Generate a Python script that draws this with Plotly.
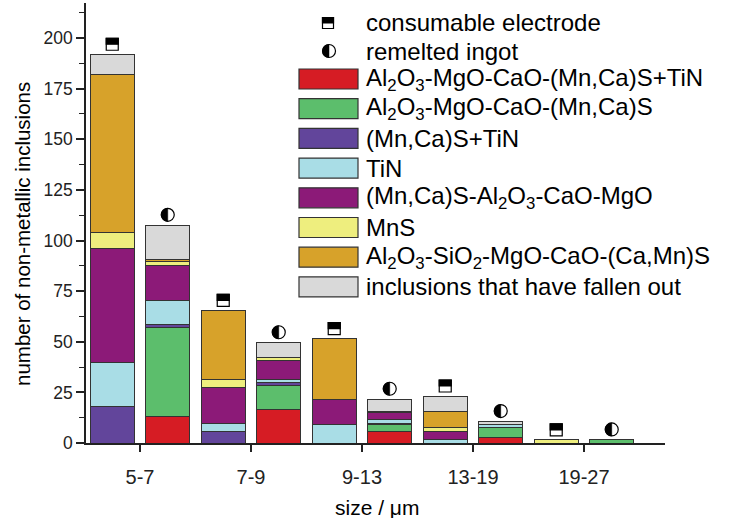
import math
import plotly.graph_objects as go

# ---------------- data ----------------
size_classes = ["5-7", "7-9", "9-13", "13-19", "19-27"]
sample_kinds = ["consumable electrode", "remelted ingot"]  # order inside each size class

# values per bar: [5-7 E, 5-7 I, 7-9 E, 7-9 I, 9-13 E, 9-13 I, 13-19 E, 13-19 I, 19-27 E, 19-27 I]
al_mg_ca_mncas_tin = [0, 13, 0, 16.4, 0, 5.6, 0, 2.5, 0, 0]
al_mg_ca_mncas = [0, 44, 0, 12, 0, 3.3, 0, 5.2, 0, 1.5]
mncas_tin = [18, 1.5, 5.5, 1.5, 0, 0.5, 0, 0, 0, 0]
tin = [22, 12, 4, 1.6, 9, 2, 1.5, 1.2, 0, 0]
mncas_al_ca_mg = [56, 17, 18, 9, 12.5, 3.8, 4, 0, 0, 0]
mns = [8, 2, 4, 1.8, 0, 0.3, 2, 0, 1.5, 0]
al_si_mg_ca_camns = [78, 1, 34, 0, 30, 0.3, 8, 0, 0, 0]
fallen_out = [10, 17, 0, 7.2, 0, 5.8, 7.7, 1.7, 0, 0]

series_names = [
    "Al<sub>2</sub>O<sub>3</sub>-MgO-CaO-(Mn,Ca)S+TiN",
    "Al<sub>2</sub>O<sub>3</sub>-MgO-CaO-(Mn,Ca)S",
    "(Mn,Ca)S+TiN",
    "TiN",
    "(Mn,Ca)S-Al<sub>2</sub>O<sub>3</sub>-CaO-MgO",
    "MnS",
    "Al<sub>2</sub>O<sub>3</sub>-SiO<sub>2</sub>-MgO-CaO-(Ca,Mn)S",
    "inclusions that have fallen out",
]
series_values = [al_mg_ca_mncas_tin, al_mg_ca_mncas, mncas_tin, tin,
                 mncas_al_ca_mg, mns, al_si_mg_ca_camns, fallen_out]
series_colors = ["#d61c24", "#5cbe6c", "#62459b", "#a9dde6",
                 "#8c1a78", "#eeee7e", "#d7a22a", "#d9d9d9"]

# ---------------- layout constants ----------------
W, H = 735, 518
ML, MR, MT, MB = 86, 70, 3, 75
PW, PH = W - ML - MR, H - MT - MB
BAR_OFFSET = 0.25
BAR_WIDTH = 0.4
OUTLINE = "#333333"
FONT = "Liberation Sans, Arial, sans-serif"

n_bars = len(size_classes) * len(sample_kinds)
x_pos = []
for i in range(len(size_classes)):
    x_pos.append(i - BAR_OFFSET)
    x_pos.append(i + BAR_OFFSET)
bar_kind = [sample_kinds[j % 2] for j in range(n_bars)]

fig = go.Figure()
for name, vals, col in zip(series_names, series_values, series_colors):
    fig.add_trace(go.Bar(
        x=x_pos, y=[v if v else None for v in vals], name=name,
        width=BAR_WIDTH, marker=dict(color=col, line=dict(color=OUTLINE, width=1)),
        showlegend=False,
    ))

totals = [sum(s[j] for s in series_values) for j in range(n_bars)]

shapes = []


def square_symbol(xref, yref, xa, ya, half, y0):
    out = []
    out.append(dict(type="rect", xref=xref, yref=yref, xsizemode="pixel", ysizemode="pixel",
                    xanchor=xa, yanchor=ya, x0=-half, x1=half, y0=y0, y1=y0 + 2 * half,
                    fillcolor="white", line=dict(color="black", width=1.2), layer="above"))
    out.append(dict(type="rect", xref=xref, yref=yref, xsizemode="pixel", ysizemode="pixel",
                    xanchor=xa, yanchor=ya, x0=-half, x1=half, y0=y0 + half, y1=y0 + 2 * half,
                    fillcolor="black", line=dict(color="black", width=1.2), layer="above"))
    return out


def circle_symbol(xref, yref, xa, ya, r, y0):
    out = []
    cy = y0 + r
    out.append(dict(type="circle", xref=xref, yref=yref, xsizemode="pixel", ysizemode="pixel",
                    xanchor=xa, yanchor=ya, x0=-r, x1=r, y0=y0, y1=y0 + 2 * r,
                    fillcolor="white", line=dict(color="black", width=1.2), layer="above"))
    pts = []
    for k in range(25):
        a = math.pi / 2 + math.pi * k / 24
        pts.append((r * math.cos(a), cy + r * math.sin(a)))
    path = "M " + " L ".join(f"{px:.2f},{py:.2f}" for px, py in pts) + " Z"
    out.append(dict(type="path", xref=xref, yref=yref, xsizemode="pixel", ysizemode="pixel",
                    xanchor=xa, yanchor=ya, path=path,
                    fillcolor="black", line=dict(color="black", width=0.5), layer="above"))
    return out


# symbols above bars
for xp, tot, kind in zip(x_pos, totals, bar_kind):
    if kind == sample_kinds[0]:
        shapes += square_symbol("x", "y", xp, tot, 6, 4)
    else:
        shapes += circle_symbol("x", "y", xp, tot, 6.5, 4)


def px_to_paper_x(px):
    return (px - ML) / PW


def px_to_paper_y(py):
    return (H - MB - py) / PH


annotations = []
LEG_TEXT_X = 364
LEG_FONT = dict(family=FONT, size=24, color="black")

# symbol legend rows
sym_rows_y = [23, 51]
for kind, ry in zip(sample_kinds, sym_rows_y):
    if kind == sample_kinds[0]:
        shapes += square_symbol("paper", "paper", px_to_paper_x(328), px_to_paper_y(ry), 5.5, -5.5)
    else:
        shapes += circle_symbol("paper", "paper", px_to_paper_x(329), px_to_paper_y(ry), 6.5, -6.5)
    annotations.append(dict(text=kind, xref="paper", yref="paper", x=px_to_paper_x(LEG_TEXT_X),
                            y=px_to_paper_y(ry), xanchor="left", yanchor="middle",
                            showarrow=False, font=LEG_FONT))

# bar legend rows
ROW0, ROW_STEP = 79, 29.7
for k, (name, col) in enumerate(zip(series_names, series_colors)):
    cy = ROW0 + ROW_STEP * k
    shapes.append(dict(type="rect", xref="paper", yref="paper",
                       x0=px_to_paper_x(299), x1=px_to_paper_x(358),
                       y0=px_to_paper_y(cy + 10), y1=px_to_paper_y(cy - 10),
                       fillcolor=col, line=dict(color=OUTLINE, width=1.2)))
    annotations.append(dict(text=name, xref="paper", yref="paper", x=px_to_paper_x(LEG_TEXT_X),
                            y=px_to_paper_y(cy), xanchor="left", yanchor="middle",
                            showarrow=False, font=LEG_FONT))

# axis titles
annotations.append(dict(text="number of non-metallic inclusions", xref="paper", yref="paper",
                        x=px_to_paper_x(22), y=px_to_paper_y(234), textangle=-90,
                        xanchor="center", yanchor="middle", showarrow=False,
                        font=dict(family=FONT, size=20.5, color="black")))
annotations.append(dict(text="size / \u03bcm", xref="paper", yref="paper",
                        x=px_to_paper_x(377), y=px_to_paper_y(507),
                        xanchor="center", yanchor="middle", showarrow=False,
                        font=dict(family=FONT, size=21, color="black")))

fig.update_layout(
    width=W, height=H, margin=dict(l=ML, r=MR, t=MT, b=MB),
    barmode="stack", plot_bgcolor="white", paper_bgcolor="white",
    font=dict(family=FONT, size=17, color="#222"),
    shapes=shapes, annotations=annotations,
    xaxis=dict(range=[-0.4865, 4.73], tickmode="array", tickvals=list(range(len(size_classes))),
               ticktext=size_classes, showline=True, linecolor="#222", linewidth=1.5,
               ticks="outside", ticklen=7, tickwidth=1.5, tickcolor="#222", showgrid=False,
               zeroline=False, ticklabelstandoff=8, tickfont=dict(size=20)),
    yaxis=dict(range=[0, 217.3], tickmode="linear", tick0=0, dtick=25, showline=True,
               linecolor="#222", linewidth=1.5, ticks="outside", ticklen=8, tickwidth=1.5,
               tickcolor="#222", showgrid=False, zeroline=False, tickfont=dict(size=17.5),
               minor=dict(dtick=12.5, ticks="outside", ticklen=5, tickwidth=1.2, tickcolor="#222")),
)

fig.write_html("out.html")
